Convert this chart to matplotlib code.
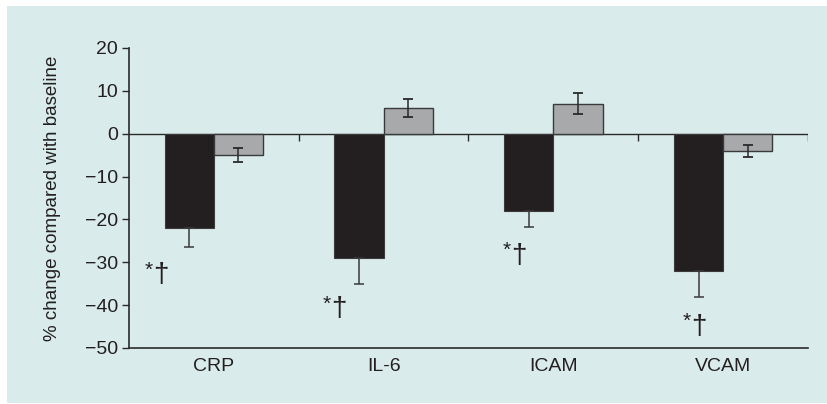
import matplotlib
matplotlib.use('Agg')
import matplotlib.pyplot as plt
import numpy as np

# --- data ---
categories = ["CRP", "IL-6", "ICAM", "VCAM"]
treat_vals = [-22, -29, -18, -32]
treat_err = [4.5, 6.0, 3.7, 6.2]
ctrl_vals = [-5, 6, 7, -4]
ctrl_err = [1.7, 2.1, 2.4, 1.4]
sig_labels = ["*†", "*†", "*†", "*†"]
sig_y = [-33, -41, -28.5, -45]
yticks = [20, 10, 0, -10, -20, -30, -40, -50]

# horizontal offset of the significance marks from the black bar (category units)
sig_dx = [-0.215, -0.165, -0.105, -0.045]

plt.rcParams['font.family'] = ['Liberation Sans', 'DejaVu Sans']

fig = plt.figure(figsize=(8.28, 4.04), dpi=100)
fig.patch.set_facecolor("white")
# light blue panel behind everything
fig.add_artist(plt.Rectangle((7 / 828, 1 / 404), 1 - 7 / 828, 397 / 404,
                             transform=fig.transFigure, facecolor="#d9ebea",
                             edgecolor="none", zorder=0))

ax = fig.add_axes([129 / 828, 56 / 404, 679 / 828, 300 / 404])
ax.set_facecolor("none")

x = np.arange(len(categories)) + 0.5
w = 0.29
ink = "#231f20"

ax.bar(x - w / 2, treat_vals, w, color=ink, edgecolor="#3a3a3a", linewidth=0.8, zorder=3)
ax.errorbar(x - w / 2, treat_vals, yerr=[treat_err, [0] * len(treat_err)], fmt="none",
            ecolor="#3a3a3a", elinewidth=1.1, capsize=3.5, capthick=1.1, zorder=4)
ax.bar(x + w / 2, ctrl_vals, w, color="#a7a9ab", edgecolor="#3a3a3a", linewidth=1.0, zorder=3)
ax.errorbar(x + w / 2, ctrl_vals, yerr=ctrl_err, fmt="none",
            ecolor="#2a2a2a", elinewidth=1.1, capsize=3.5, capthick=1.3, zorder=4)

# zero line with category separators
ax.axhline(0, color="#2a2a2a", linewidth=1.0, zorder=2)
ax.vlines(np.arange(1, len(categories) + 1), -1.6, 0, color="#2a2a2a", linewidth=1.0, zorder=2)

# star is small and raised, dagger larger
for xi, dx, lab, yi in zip(x - w / 2, sig_dx, sig_labels, sig_y):
    ax.text(xi + dx, yi + 1.2, lab[0], ha="right", va="center", fontsize=15, color=ink)
    ax.text(xi + dx, yi, lab[1], ha="left", va="center", fontsize=20, color=ink)

ax.set_xlim(0, len(categories))
ax.set_ylim(-50, 20)
ax.set_yticks(yticks)
ax.set_xticks(x)
ax.set_xticklabels(categories, fontsize=14, color=ink)
ax.tick_params(axis="x", length=0, pad=7)
ax.tick_params(axis="y", length=5, width=1.0, color="#2a2a2a", labelsize=14,
               labelcolor=ink, direction="out", pad=3)
ax.set_ylabel("% change compared with baseline", fontsize=13.5, color=ink, labelpad=17)

for s in ["top", "right"]:
    ax.spines[s].set_visible(False)
for s in ["left", "bottom"]:
    ax.spines[s].set_color("#2a2a2a")
    ax.spines[s].set_linewidth(1.2)

fig.savefig("out.png", dpi=100, facecolor=fig.get_facecolor())
